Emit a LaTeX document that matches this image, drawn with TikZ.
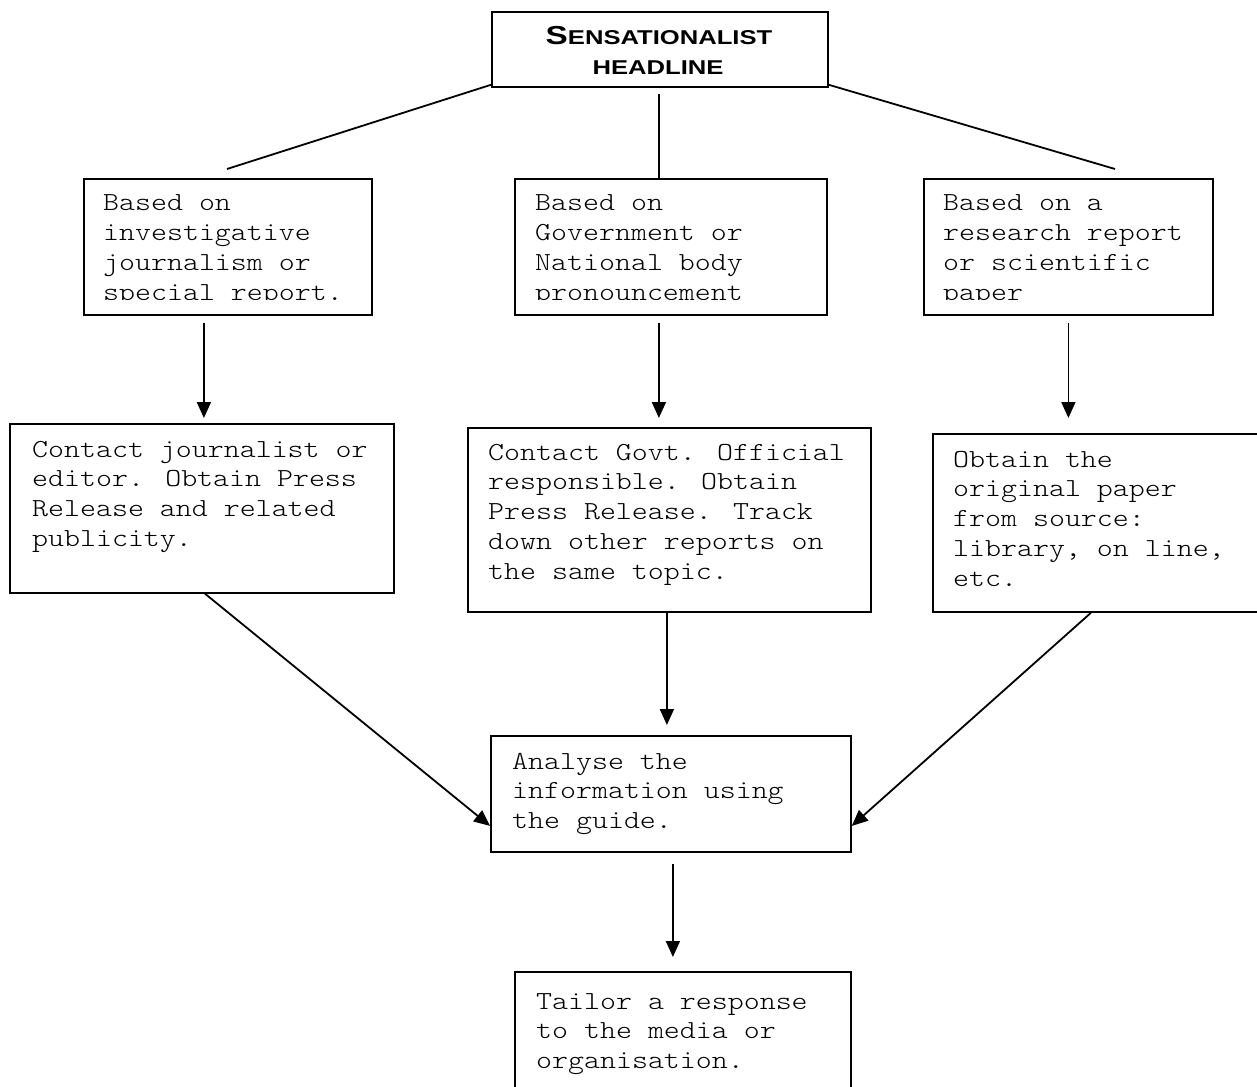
\documentclass[tikz,border=0pt]{standalone}
\usepackage{fontspec}
\usetikzlibrary{arrows.meta}
\newfontfamily\bodyfont[FakeStretch=1.17]{lmmonolt10-regular.otf}
\newfontfamily\headfont[FakeStretch=1.28]{Liberation Sans}
\newcommand{\tx}[1]{\parbox[t]{430pt}{\raggedright\bodyfont\fontsize{26}{29.8}\selectfont #1}}
\tikzset{
  box/.style={draw, line width=1.8pt, inner sep=0pt, anchor=north west},
  txt/.style={inner sep=0pt, anchor=base west},
  head/.style={inner sep=0pt, anchor=base, font=\headfont\bfseries},
  ln/.style={line width=1.8pt},
  arr/.style={line width=1.8pt, -{Triangle[length=16pt,width=14pt]}},
}
\begin{document}
\begin{tikzpicture}[x=1pt,y=-1pt]
\clip (0,0) rectangle (1257,1086);
\fill[white] (0,0) rectangle (1257,1086);
% top box
\node[box, minimum width=336pt, minimum height=75pt] (top) at (491,11) {};
\node[head] (h1) at (659,45) {\fontsize{20}{20}\selectfont{\fontsize{26}{26}\selectfont S}ENSATIONALIST};
\node[head] (h2) at (658,75) {\fontsize{20}{20}\selectfont HEADLINE};
% first row
\node[box, minimum width=288pt, minimum height=136pt] (t1) at (83,178) {};
\node[box, minimum width=312pt, minimum height=136pt] (t2) at (514,178) {};
\node[box, minimum width=289pt, minimum height=136pt] (t3) at (923,178) {};
\begin{scope}
\clip (t1.north west) rectangle ([yshift=16pt]t1.south east);
\node[txt] (t1t) at (103,211) {\tx{Based on\\investigative\\journalism or\\special report.}};
\end{scope}
\begin{scope}
\clip (t2.north west) rectangle ([yshift=16pt]t2.south east);
\node[txt] (t2t) at (535,211) {\tx{Based on\\Government or\\National body\\pronouncement}};
\end{scope}
\begin{scope}
\clip (t3.north west) rectangle ([yshift=16pt]t3.south east);
\node[txt] (t3t) at (943,211) {\tx{Based on a\\research report\\or scientific\\paper}};
\end{scope}
% second row
\node[box, minimum width=384pt, minimum height=169pt] (m1) at (9,423) {};
\node[txt] (m1t) at (32,457) {\tx{Contact journalist or\\editor. Obtain Press\\Release and related\\publicity.}};
\node[box, minimum width=403pt, minimum height=184pt] (m2) at (467,427) {};
\node[txt] (m2t) at (488,460) {\tx{Contact Govt. Official\\responsible. Obtain\\Press Release. Track\\down other reports on\\the same topic.}};
\node[box, minimum width=340pt, minimum height=178pt] (m3) at (932,433) {};
\node[txt] (m3t) at (953,467) {\tx{Obtain the\\original paper\\from source:\\library, on line,\\etc.}};
% analyse
\node[box, minimum width=360pt, minimum height=116pt] (an) at (490,735) {};
\node[txt] (ant) at (512,769) {\tx{Analyse the\\information using\\the guide.}};
% tailor
\node[box, minimum width=336pt, minimum height=140pt] (ta) at (514,971) {};
\node[txt] (tat) at (536,1009) {\tx{Tailor a response\\to the media or\\organisation.}};
% connectors from headline
\coordinate (c1) at (227,169);
\coordinate (c2) at (1115,169);
\draw[ln] ([yshift=3pt]top.south west) -- (c1);
\draw[ln] ([yshift=3pt]top.south east) -- (c2);
\draw[ln] ([xshift=-1pt,yshift=-6pt]top.south) -- ([xshift=-1pt]top.south |- t2.north);
% arrows row 1 -> row 2
\draw[arr] ([xshift=-24pt,yshift=-7pt]t1.south) -- ([xshift=-24pt,yshift=5pt]t1.south |- m1.north);
\draw[arr] ([xshift=-12pt,yshift=-7pt]t2.south) -- ([xshift=-12pt,yshift=9pt]t2.south |- m2.north);
\draw[arr] ([yshift=-7pt]t3.south) -- ([yshift=15pt]t3.south |- m3.north);
% arrows row 2 -> analyse
\draw[arr] ([xshift=2pt,yshift=1pt]m1.south) -- ([yshift=-32pt]an.west);
\draw[arr] ([xshift=-2.5pt]m2.south) -- ([xshift=-2.5pt,yshift=10pt]m2.south |- an.north);
\draw[arr] ([xshift=-12pt]m3.south) -- ([yshift=-32pt]an.east);
% analyse -> tailor
\draw[arr] ([xshift=2pt,yshift=-11pt]an.south) -- ([xshift=2pt,yshift=14pt]an.south |- ta.north);
\end{tikzpicture}
\end{document}
